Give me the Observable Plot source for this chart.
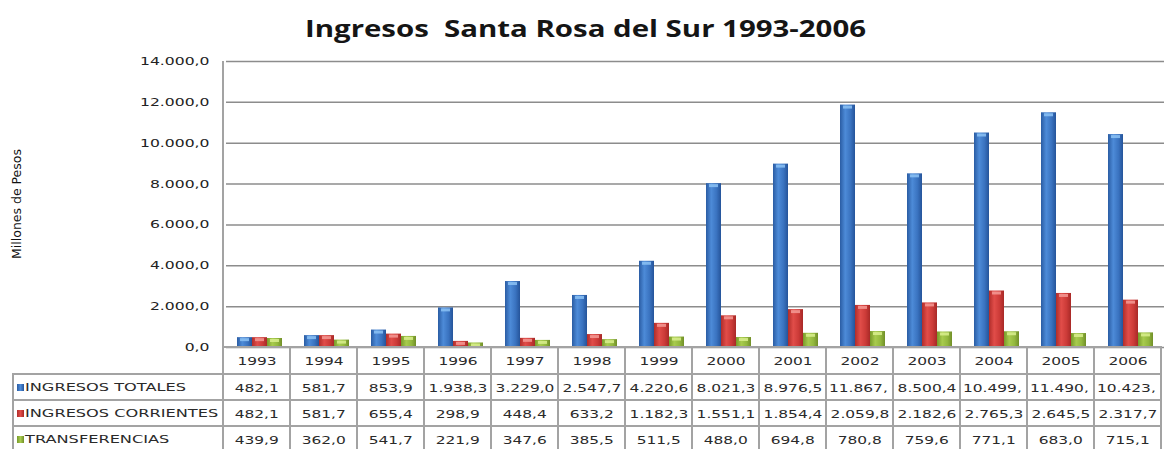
<!DOCTYPE html>
<html><head><meta charset="utf-8">
<script src="https://cdn.jsdelivr.net/npm/d3@7"></script>
<script src="https://cdn.jsdelivr.net/npm/@observablehq/plot@0.6"></script>
<style>
body{margin:0;background:#fff;}
#wrap{position:relative;width:1172px;height:449px;overflow:hidden;background:#fff;}
#title{position:absolute;left:0;top:0;width:1172px;height:56px;line-height:56px;text-align:center;font-family:"Open Sans",sans-serif;font-weight:700;font-size:23px;color:#151515;white-space:pre;}
#title span{display:inline-block;white-space:pre;}
#chart{position:absolute;left:0;top:45px;}
#ylab{position:absolute;left:16px;top:204px;font-family:"Liberation Sans Narrow","DejaVu Sans Condensed",sans-serif;font-size:13px;color:#111;white-space:nowrap;}
.ln{position:absolute;background:#a3a3a3;}
.cell{position:absolute;display:flex;align-items:center;justify-content:center;font-family:"DejaVu Sans",sans-serif;font-size:11px;color:#2a2a2a;white-space:nowrap;overflow:hidden;}
.cell span{display:inline-block;transform:scaleX(1.4);transform-origin:center;}
.leg{position:absolute;font-family:"DejaVu Sans",sans-serif;font-size:11px;color:#2a2a2a;white-space:nowrap;}
.leg span{display:inline-block;transform:scaleX(1.47);transform-origin:left center;}
.mk{position:absolute;width:7px;height:7px;}
</style></head>
<body>
<div id="wrap">
  <div id="chart"></div>
  <div id="title"><span>Ingresos  Santa Rosa del Sur 1993-2006</span></div>
  <div id="ylab"><span style="display:inline-block">Millones de Pesos</span></div>
</div>
<script>
const years = [1993,1994,1995,1996,1997,1998,1999,2000,2001,2002,2003,2004,2005,2006];
const seriesNames = ["INGRESOS TOTALES","INGRESOS CORRIENTES","TRANSFERENCIAS"];
const totales = [482.1,581.7,853.9,1938.3,3229.0,2547.7,4220.6,8021.3,8976.5,11867.0,8500.4,10499.0,11490.0,10423.0];
const corrientes = [482.1,581.7,655.4,298.9,448.4,633.2,1182.3,1551.1,1854.4,2059.8,2182.6,2765.3,2645.5,2317.7];
const transferencias = [439.9,362.0,541.7,221.9,347.6,385.5,511.5,488.0,694.8,780.8,759.6,771.1,683.0,715.1];
const yTicks = [0,2000,4000,6000,8000,10000,12000,14000];

const keys = ["tot","cor","tra"];
const seriesValues = [totales, corrientes, transferencias];
const rows = years.flatMap((yr,i)=> keys.map((k,j)=>({year: yr, key: k, value: seriesValues[j][i]})));
const fmt = d3.formatLocale({decimal:",", thousands:".", grouping:[3], currency:["$",""]}).format(",.1f");

const grads = [
  {id:"gBlue", stops:[["0%","#2a5ca3"],["35%","#4d8bd8"],["70%","#3a73c0"],["100%","#25549a"]], bevel:"#8cc2f5", css:"linear-gradient(90deg,#2a5ca3,#4d8bd8,#25549a)"},
  {id:"gRed", stops:[["0%","#b02d2a"],["35%","#e14d49"],["70%","#cc3b38"],["100%","#a82927"]], bevel:"#f49a95", css:"linear-gradient(90deg,#b02d2a,#e14d49,#a82927)"},
  {id:"gGreen", stops:[["0%","#779a2a"],["35%","#a8cb4e"],["70%","#93b83e"],["100%","#718f28"]], bevel:"#d9ee8e", css:"linear-gradient(90deg,#779a2a,#a8cb4e,#718f28)"}
];

const plot = Plot.plot({
  width:1172, height:404,
  marginTop:16, marginBottom:102, marginLeft:223, marginRight:5,
  style:{fontFamily:"DejaVu Sans", fontSize:"11px", color:"#222", background:"transparent", overflow:"visible"},
  fx:{domain: years, padding:0, axis:null, label:null},
  x:{domain: keys, paddingInner:0, paddingOuter:0.64, axis:null},
  y:{domain:[0,14000]},
  marks:[
    Plot.ruleY(yTicks, {stroke:"#8c8c8c", strokeWidth:1.5}),
    ...keys.map((k,j)=> Plot.barY(rows.filter(r=>r.key===k), {fx:"year", x:"key", y:"value", fill:`url(#${grads[j].id})`})),
    ...keys.map((k,j)=> Plot.tickY(rows.filter(r=>r.key===k), {fx:"year", x:"key", y:"value", stroke:grads[j].bevel, strokeWidth:3, dy:2, insetLeft:3, insetRight:3, strokeOpacity:0.85})),
    Plot.axisY({ticks: yTicks, tickFormat: fmt, tickSize:0, tickPadding:17, label:null, fill:"#222"})
  ]
});

// gradients
const svg = d3.select(plot);
const defs = svg.insert("defs", ":first-child");
grads.forEach(g => {
  const lg = defs.append("linearGradient").attr("id", g.id).attr("x1","0").attr("x2","1").attr("y1","0").attr("y2","0");
  g.stops.forEach(([o,c]) => lg.append("stop").attr("offset", o).attr("stop-color", c));
});
document.getElementById("chart").appendChild(plot);

// stretch y tick labels horizontally like the reference
svg.selectAll('g[aria-label="y-axis tick label"] text').each(function(){
  const t = d3.select(this);
  const tr = t.attr("transform");
  if (tr) t.attr("transform", tr + " scale(1.42,1)");
  else {
    const x = +t.attr("x") || 0, y = +t.attr("y") || 0;
    t.attr("x", null).attr("y", null).attr("transform", `translate(${x},${y}) scale(1.42,1)`);
  }
});

// fit title and y label
const wrap = document.getElementById("wrap");
const ts = document.querySelector("#title span");
ts.style.transform = `scaleX(${561/ts.offsetWidth})`;
const yl = document.querySelector("#ylab span");
document.getElementById("ylab").style.transform = `translate(-50%,-50%) rotate(-90deg) scaleX(${110/yl.offsetWidth})`;

// data table
const fx = plot.scale("fx");
const top0 = 45 + 404 - 102; // 347
const x0 = fx.range[0], step = fx.step;
const xEnd = x0 + step*years.length;
const rowTops = [top0, top0+27, top0+53, top0+79, top0+105];
function line(l,t,w,h){const d=document.createElement("div");d.className="ln";Object.assign(d.style,{left:l+"px",top:t+"px",width:w+"px",height:h+"px"});wrap.appendChild(d);}
line(x0-1, 61, 2, 449-61);
line(x0-1, rowTops[0]-1, xEnd-x0+2, 2);
for (let r=1;r<4;r++) line(12, rowTops[r]-1, xEnd-12+1, 2);
line(12, rowTops[1]-1, 2, 449-rowTops[1]+1);
for (let i=1;i<=years.length;i++) line(x0+i*step-1, rowTops[0], 2, 449-rowTops[0]);

function cell(text, i, r){
  const d=document.createElement("div"); d.className="cell";
  Object.assign(d.style,{left:(x0+i*step+1)+"px", top:(rowTops[r]+1)+"px", width:(step-2)+"px", height:(rowTops[r+1]-rowTops[r])+"px"});
  const s=document.createElement("span"); s.textContent=text; d.appendChild(s); wrap.appendChild(d);
  if (s.getBoundingClientRect().width > step-4){
    let t=text;
    while (t.length>1 && s.getBoundingClientRect().width > step-6){ t=t.slice(0,-1); s.textContent=t; }
    d.style.justifyContent="flex-start"; s.style.transformOrigin="left center"; s.style.marginLeft="2px";
  }
}
years.forEach((y,i)=>cell(String(y), i, 0));
seriesValues.forEach((vals,j)=> vals.forEach((v,i)=>cell(fmt(v), i, j+1)));
seriesNames.forEach((n,j)=>{
  const cy = (rowTops[j+1]+rowTops[j+2])/2;
  const m=document.createElement("div"); m.className="mk";
  Object.assign(m.style,{left:"17px", top:(cy-3)+"px", background:grads[j].css}); wrap.appendChild(m);
  const d=document.createElement("div"); d.className="leg";
  Object.assign(d.style,{left:"25px", top:(cy-6)+"px", lineHeight:"14px"});
  const s=document.createElement("span"); s.textContent=n; d.appendChild(s); wrap.appendChild(d);
});
</script>
</body></html>
